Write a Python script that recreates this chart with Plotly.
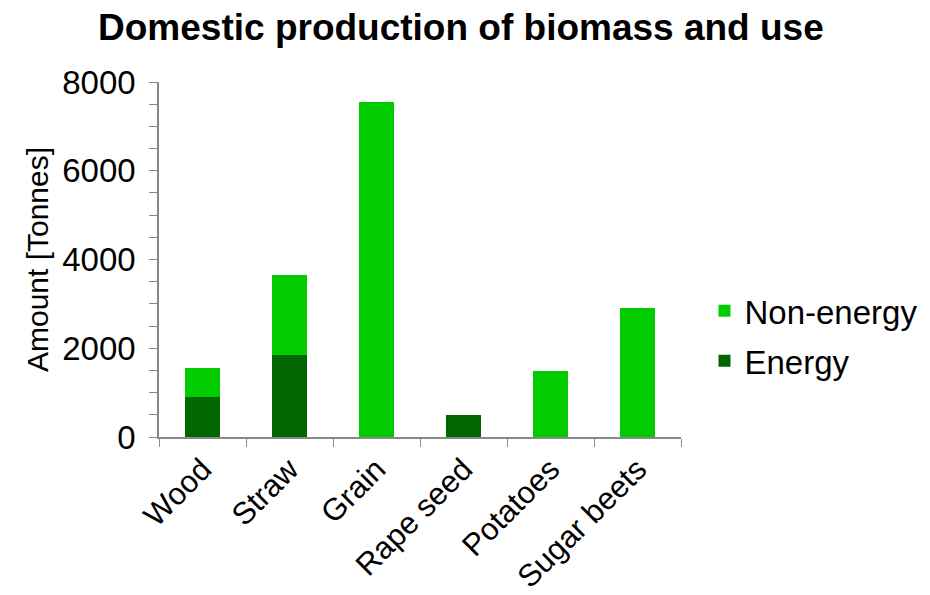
import plotly.graph_objects as go

categories = ["Wood", "Straw", "Grain", "Rape seed", "Potatoes", "Sugar beets"]
energy = [900, 1850, 0, 490, 0, 0]
non_energy = [650, 1800, 7550, 0, 1490, 2900]

FONT = "Liberation Sans, Arial, sans-serif"

fig = go.Figure()
fig.add_trace(go.Bar(x=categories, y=energy, name="Energy", legendrank=2,
                     marker=dict(color="#006600", line=dict(width=0)), legendgroup="e"))
fig.add_trace(go.Bar(x=categories, y=non_energy, name="Non-energy", legendrank=1,
                     marker=dict(color="#00CC00", line=dict(width=0)), legendgroup="n"))

fig.update_layout(
    barmode="stack",
    bargap=0.6,
    width=930, height=595,
    margin=dict(l=151, r=257, t=74, b=166, autoexpand=False),
    paper_bgcolor="white", plot_bgcolor="white",
    font=dict(family=FONT, size=30, color="black"),
    title=dict(text="<b>Domestic production of biomass and use</b>",
               x=0.487, xanchor="center", y=0.968, yanchor="middle",
               font=dict(size=37, family=FONT)),
    legend=dict(x=1.045, y=0.285, xanchor="left", yanchor="middle",
                traceorder="grouped", tracegroupgap=4,
                font=dict(size=33, family=FONT), itemwidth=30),
    showlegend=True,
)
fig.update_xaxes(
    showline=True, linecolor="#888888", linewidth=1.5, automargin=False,
    ticks="outside", tickson="boundaries", ticklen=8, tickcolor="#888888",
    tickangle=-45, tickfont=dict(size=31), showgrid=False,
)
fig.update_yaxes(
    range=[0, 8000], showline=True, linecolor="#888888", linewidth=1.5,
    automargin=False,
    dtick=2000, ticks="outside", ticklen=8, tickcolor="#888888",
    minor=dict(dtick=500, ticks="outside", ticklen=8, tickcolor="#888888"),
    showgrid=False, zeroline=False, tickfont=dict(size=33),
    ticklabelstandoff=7,
    title=dict(text="Amount [Tonnes]", font=dict(size=30), standoff=5),
)

fig.write_html("out.html")
